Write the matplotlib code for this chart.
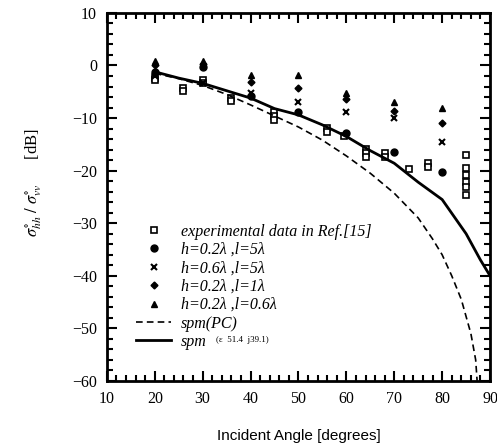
"""
Ratio of HH to VV backscatter vs incident angle, experiment vs simulation.
"""

import matplotlib
matplotlib.use("Agg")
from matplotlib import pyplot as plt
from matplotlib.ticker import MultipleLocator

# experimental data in Ref.[15]
exp_angle = [20, 20, 26, 26, 30, 30, 36, 36, 45, 45, 45, 56, 56, 59.5,
             64, 64, 64, 68, 68, 73, 77, 77, 85, 85, 85, 85, 85, 85]
exp_db = [-2.3, -2.8, -4.2, -4.8, -2.8, -3.3, -6.2, -6.8, -8.8, -9.6, -10.3,
          -11.8, -12.6, -13.5, -15.8, -16.6, -17.4, -16.6, -17.4, -19.6,
          -18.5, -19.4, -17.0, -19.5, -20.8, -22.1, -23.2, -24.6]

sim_angle = [20, 30, 40, 50, 60, 70, 80]
h02_l5 = [-1.2, -0.3, -5.8, -8.8, -12.8, -16.4, -20.2]
h06_l5 = [-2.0, -3.4, -5.3, -6.9, -8.8, -10.0, -14.5]
h02_l1 = [0.0, 0.2, -3.1, -4.2, -6.4, -8.6, -10.9]
h02_l06 = [0.8, 0.8, -1.8, -1.8, -5.3, -6.9, -8.1]

pc_angle = [20, 25, 30, 35, 40, 45, 50, 55, 60, 65, 70, 75, 78, 80, 82, 84,
            86, 87, 87.3]
pc_db = [-1.5, -2.5, -3.8, -5.5, -7.5, -9.6, -11.7, -14.2, -17.2, -20.5,
         -24.3, -29.0, -33.0, -36.0, -40.0, -44.5, -51.0, -56.0, -60.0]

spm_angle = [20, 25, 30, 35, 40, 45, 50, 55, 60, 65, 70, 75, 80, 85, 88, 90]
spm_db = [-1.2, -2.4, -3.4, -4.8, -6.2, -8.2, -9.4, -11.3, -13.5, -16.2,
          -18.6, -22.2, -25.5, -32.0, -37.0, -40.0]

plt.rcParams["font.family"] = ["Liberation Serif", "DejaVu Serif"]
plt.rcParams["mathtext.fontset"] = "stix"

fig = plt.figure(figsize=(4.97, 4.45), dpi=100)
ax = fig.add_axes([0.215, 0.144, 0.771, 0.827])

ax.plot(exp_angle, exp_db, "s", mfc="white", mec="black", mew=1.2, ms=4,
        label="experimental data in Ref.[15]")
ax.plot(sim_angle, h02_l5, "o", color="black", ms=5, label=r"h=0.2λ ,l=5λ")
ax.plot(sim_angle, h06_l5, "x", color="black", ms=5, mew=1.5, label=r"h=0.6λ ,l=5λ")
ax.plot(sim_angle, h02_l1, "D", color="black", ms=3.5, label=r"h=0.2λ ,l=1λ")
ax.plot(sim_angle, h02_l06, "^", color="black", ms=5, label=r"h=0.2λ ,l=0.6λ")
ax.plot(pc_angle, pc_db, color="black", lw=1.2, ls=(0, (4, 2.5)), label="spm(PC)")
ax.plot(spm_angle, spm_db, color="black", lw=2, label="spm")

ax.set_xlim(10, 90)
ax.set_ylim(-60, 10)
ax.xaxis.set_major_locator(MultipleLocator(10))
ax.xaxis.set_minor_locator(MultipleLocator(2))
ax.yaxis.set_major_locator(MultipleLocator(10))
ax.yaxis.set_minor_locator(MultipleLocator(2))
ax.tick_params(which="both", direction="in", top=True, right=True,
               width=1.5, labelsize=11.5)
ax.tick_params(which="major", length=7, pad=7)
ax.tick_params(which="minor", length=4)
for s in ax.spines.values():
    s.set_linewidth(2)

ax.set_xlabel("Incident Angle [degrees]", family="Liberation Sans",
              fontsize=11, labelpad=16)
ax.set_ylabel(r"$\sigma^{\circ}_{hh}\ /\ \sigma^{\circ}_{vv}$      [dB]",
              fontsize=12)
ax.yaxis.set_label_coords(-0.165, 0.54)

leg = ax.legend(loc="upper left", bbox_to_anchor=(0.06, 0.445), frameon=False,
                prop={"style": "italic", "size": 11.5}, handlelength=2.2,
                handletextpad=0.6, labelspacing=0.15, borderaxespad=0)
ax.text(0.285, 0.112, "(ε  51.4  j39.1)", transform=ax.transAxes,
        fontsize=6.5, va="center")

fig.savefig("out.png", dpi=100)
plt.close()
